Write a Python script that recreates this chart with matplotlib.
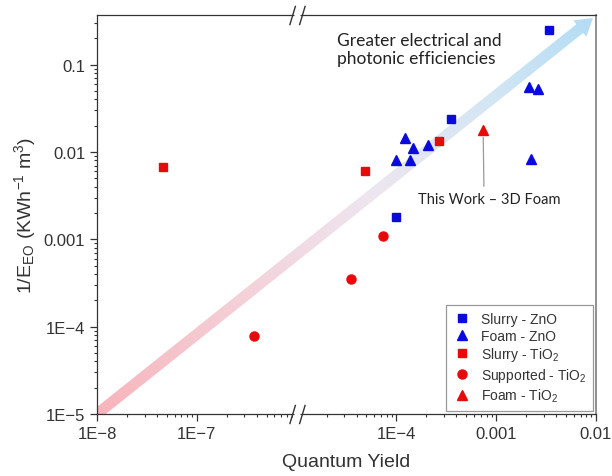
import numpy as np
import matplotlib
matplotlib.use('Agg')
from matplotlib import pyplot as plt
from matplotlib import ticker
from matplotlib.path import Path
from matplotlib.patches import Polygon
from matplotlib.colors import LinearSegmentedColormap
from matplotlib import transforms

plt.rcParams['font.family'] = ['Liberation Sans', 'DejaVu Sans']
plt.rcParams['mathtext.default'] = 'regular'

# ================= data =================
slurry_zno_x = [3.4e-3, 3.5e-4, 1.0e-4]
slurry_zno_y = [0.25, 0.024, 0.0018]

foam_zno_x = [2.15e-3, 2.6e-3, 1.23e-4, 1.45e-4, 2.05e-4, 1.0e-4, 1.36e-4, 2.25e-3]
foam_zno_y = [0.055, 0.053, 0.0145, 0.0111, 0.0119, 0.0080, 0.0080, 0.0082]

slurry_tio2_x = [4.6e-8, 4.8e-5, 2.7e-4]
slurry_tio2_y = [0.0068, 0.0060, 0.0133]

supported_tio2_x = [3.7e-7, 3.5e-5, 7.3e-5]
supported_tio2_y = [7.9e-5, 3.5e-4, 1.08e-3]

foam_tio2_x = [7.4e-4]
foam_tio2_y = [0.0177]

x_major = [1e-8, 1e-7, 1e-4, 1e-3, 1e-2]
x_major_labels = ['1E\u22128', '1E\u22127', '1E\u22124', '0.001', '0.01']
y_major = [1e-5, 1e-4, 1e-3, 1e-2, 1e-1]
y_major_labels = ['1E\u22125', '1E\u22124', '0.001', '0.01', '0.1']

BLUE = '#0a0ae0'
RED = '#e60a0a'


# broken log axis: the decade 1E-6 .. 1E-5 is cut out
def fwd(x):
    lx = np.log10(np.clip(np.asarray(x, dtype=float), 1e-300, None))
    return np.where(lx <= -6, lx, np.where(lx >= -5, lx - 1, -6.0))


def inv(v):
    v = np.asarray(v, dtype=float)
    return np.where(v <= -6, 10.0 ** v, 10.0 ** (v + 1))


fig = plt.figure(figsize=(6.12, 4.77), dpi=100)
ax_left, ax_bottom, ax_w, ax_h = 97 / 612, 62 / 477, 499 / 612, 399 / 477
ax = fig.add_axes([ax_left, ax_bottom, ax_w, ax_h])
ax.set_xscale('function', functions=(fwd, inv))
ax.set_yscale('log')

# --- gradient arrow (drawn in pixel units of the axes box) ---
W, H = ax_w * 612, ax_h * 477
tip = np.array([496.0, 396.0])
u = tip / np.hypot(*tip)
n = np.array([-u[1], u[0]])
hw, head_len, head_hw = 5.5, 17.0, 10.5
base = tip - u * head_len
pts = np.array([n * hw, base + n * hw, base + n * head_hw, tip,
                base - n * head_hw, base - n * hw, -n * hw])
pts = pts / np.array([W, H])
arrow_poly = Polygon(pts, closed=True, transform=ax.transAxes,
                     facecolor='none', edgecolor='none')
ax.add_patch(arrow_poly)
gx, gy = np.meshgrid(np.linspace(0, 1, 300), np.linspace(0, 1, 300))
grad = (gx * W * u[0] + gy * H * u[1]) / np.hypot(*tip)
cmap = LinearSegmentedColormap.from_list(
    'arrow', [(0.0, '#f8b4bb'), (0.3, '#f4d2da'), (0.55, '#eee6f0'), (0.8, '#d2e6f4'), (1.0, '#b3dcf4')])
ax.imshow(grad, extent=[0, 1, 0, 1], origin='lower', transform=ax.transAxes,
          cmap=cmap, aspect='auto', clip_path=arrow_poly,
          zorder=1, interpolation='bilinear')

# --- points ---
ax.plot(slurry_zno_x, slurry_zno_y, 's', color=BLUE, ms=6, ls='none', label='Slurry - ZnO', zorder=4)
ax.plot(foam_zno_x, foam_zno_y, '^', color=BLUE, ms=7.5, ls='none', label='Foam - ZnO', zorder=4)
ax.plot(slurry_tio2_x, slurry_tio2_y, 's', color=RED, ms=6, ls='none', label='Slurry - TiO$_2$', zorder=4)
ax.plot(supported_tio2_x, supported_tio2_y, 'o', color=RED, ms=6.5, ls='none', label='Supported - TiO$_2$', zorder=4)
ax.plot(foam_tio2_x, foam_tio2_y, '^', color=RED, ms=7.5, ls='none', label='Foam - TiO$_2$', zorder=4)

ax.set_xlim(1e-8, 1e-2)
ax.set_ylim(1e-5, 0.37)

# ticks
ax.xaxis.set_major_locator(ticker.FixedLocator(x_major))
ax.xaxis.set_major_formatter(ticker.FixedFormatter(x_major_labels))
x_minor = [k * 10.0 ** e for e in (-8, -7, -5, -4, -3) for k in range(2, 10)]
ax.xaxis.set_minor_locator(ticker.FixedLocator(x_minor))
ax.xaxis.set_minor_formatter(ticker.NullFormatter())
ax.yaxis.set_major_locator(ticker.FixedLocator(y_major))
ax.yaxis.set_major_formatter(ticker.FixedFormatter(y_major_labels))
ax.yaxis.set_minor_locator(ticker.LogLocator(base=10, subs=np.arange(2, 10), numticks=20))
ax.yaxis.set_minor_formatter(ticker.NullFormatter())
ax.tick_params(which='major', direction='out', length=5, width=0.9, labelsize=12, colors='#333333',
               labelcolor='#333333')
ax.tick_params(which='minor', direction='out', length=2.5, width=0.8, colors='#333333')
for sp in ax.spines.values():
    sp.set_linewidth(0.9)
    sp.set_color('#333333')
ax.spines['right'].set_color('#888888')
ax.spines['right'].set_linewidth(1.3)

ax.set_xlabel('Quantum Yield', fontsize=14, color='#333333', labelpad=9)
ax.set_ylabel('1/E$_{EO}$ (KWh$^{-1}$ m$^3$)', fontsize=14, color='#333333', labelpad=4)

# break marks "//" on top and bottom spines
brk = transforms.blended_transform_factory(ax.transData, ax.transAxes)
slash = Path([(-4, -5), (-1, 5), (1, -5), (4, 5)],
             [Path.MOVETO, Path.LINETO, Path.MOVETO, Path.LINETO])
for yy in (0, 1):
    ax.plot([1e-6], [yy], marker='s', ms=5, mfc='white', mec='none', transform=brk,
            clip_on=False, zorder=6)
    ax.plot([1e-6], [yy], marker=slash, ms=14, mec='#333333', mew=1.0, transform=brk,
            clip_on=False, zorder=7)

# texts
ax.text(0.481, 0.958, 'Greater electrical and\nphotonic efficiencies', transform=ax.transAxes,
        ha='left', va='top', fontsize=12.5, family=['Lato', 'DejaVu Sans'], color='#222222',
        linespacing=1.2, zorder=8)
ax.annotate('This Work \u2013 3D Foam', xy=(foam_tio2_x[0], foam_tio2_y[0]), xytext=(8.6e-4, 0.0029),
            ha='center', va='center', fontsize=10.5, family=['Lato', 'DejaVu Sans'], color='#222222',
            arrowprops=dict(arrowstyle='-', color='#999999', lw=0.9, shrinkA=2, shrinkB=5,
                            relpos=(0.46, 1.0)), zorder=8)

leg = ax.legend(loc='lower right', fontsize=10, frameon=True, fancybox=False, edgecolor='#999999',
                framealpha=1, borderaxespad=0.2, labelspacing=0.2, handletextpad=0.6,
                handlelength=1.4, borderpad=0.5)
leg.get_frame().set_linewidth(0.9)
for t in leg.get_texts():
    t.set_color('#333333')

fig.savefig('out.png', dpi=100)
